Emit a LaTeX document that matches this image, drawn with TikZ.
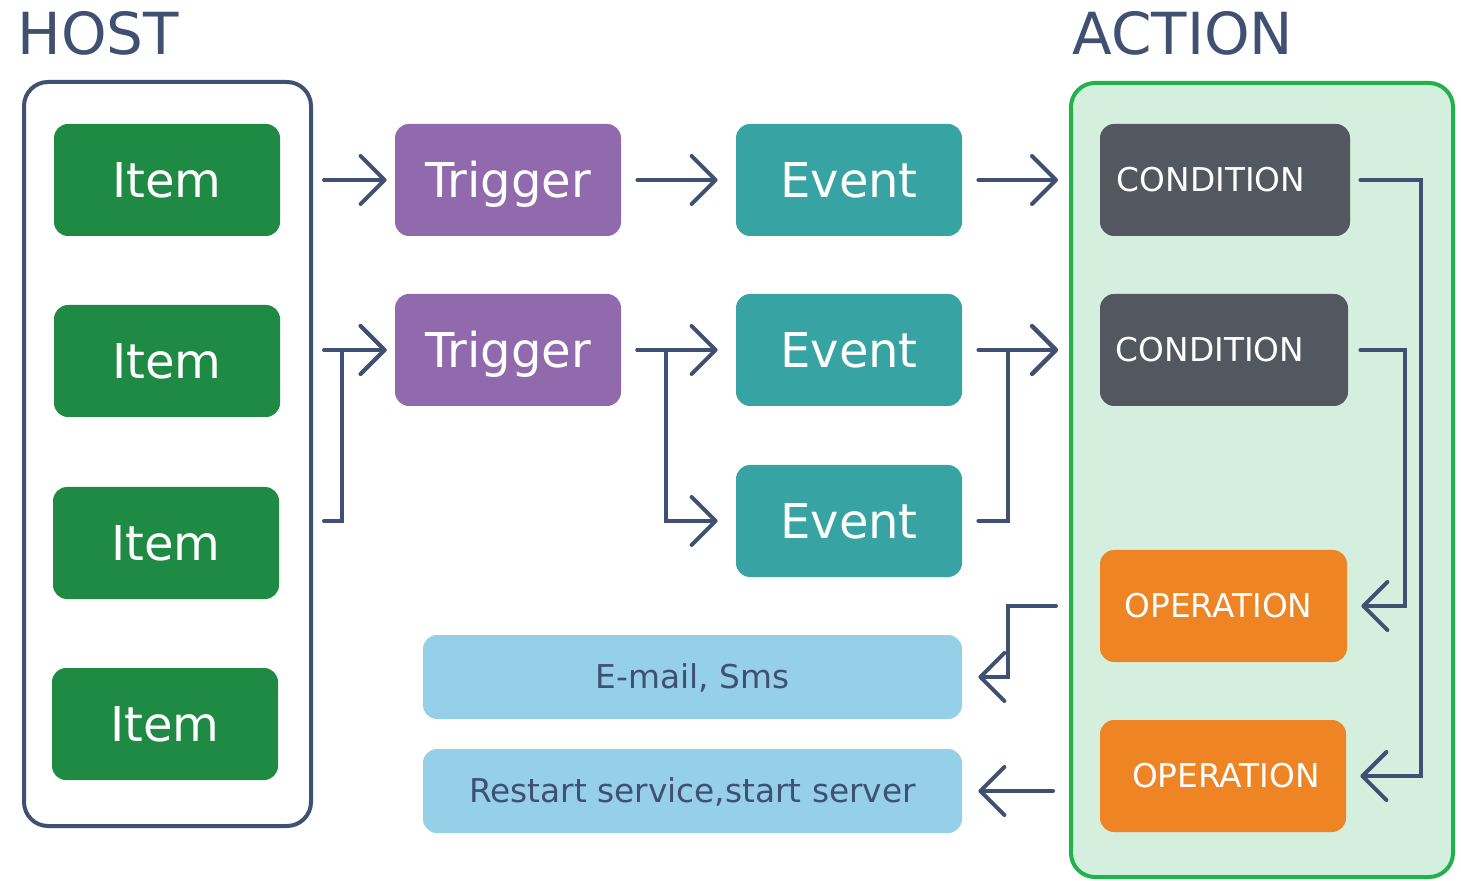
\documentclass[tikz,border=0pt]{standalone}
\usepackage{fontspec}
\setmainfont{DejaVu Sans}
\usetikzlibrary{arrows.meta}

\definecolor{linecol}{HTML}{405073}
\definecolor{itemgreen}{HTML}{1E8A44}
\definecolor{trigpurple}{HTML}{9169AD}
\definecolor{eventteal}{HTML}{38A3A3}
\definecolor{condgray}{HTML}{53575F}
\definecolor{oporange}{HTML}{EE8424}
\definecolor{msgblue}{HTML}{95CFE8}
\definecolor{actgreen}{HTML}{22B24C}
\definecolor{actfill}{HTML}{D4EFDD}

\begin{document}
\begin{tikzpicture}[x=0.5pt, y=-0.5pt,
    tile/.style={rounded corners=7pt, minimum width=113pt, minimum height=56pt, inner sep=0pt,
        text=white, text height=17.3pt, text depth=0pt, font=\fontsize{24}{29}\selectfont},
    caps/.style={rounded corners=7pt, minimum height=56pt, inner sep=0pt,
        text=white, text height=11.8pt, text depth=0pt, font=\fontsize{16.4}{20}\selectfont},
    msg/.style={rounded corners=7pt, minimum width=269.5pt, minimum height=42pt, inner sep=0pt,
        fill=msgblue, text=linecol, text height=11.8pt, text depth=0pt, font=\fontsize{16.4}{20}\selectfont},
    title/.style={anchor=base west, inner sep=0pt, text=linecol, font=\fontsize{29}{35}\selectfont},
    arr/.style={draw=linecol, line width=2pt, line cap=round, line join=miter,
        -{Straight Barb[length=12pt, width=24pt, round]}}]

    \useasboundingbox (0,0) rectangle (1461,881);

    \node[title] (hosttitle) at (17,55) {HOST};
    \node[title] (acttitle) at (1072,55) {ACTION};

    \node[draw=linecol, line width=2pt, rounded corners=12pt, minimum width=143.5pt, minimum height=372pt] (host) at (167.5,454) {};
    \node[draw=actgreen, fill=actfill, line width=2pt, rounded corners=12pt, minimum width=191pt, minimum height=397pt] (action) at (1262,480) {};

    \node[tile, fill=itemgreen] (i1) at (167,180) {Item};
    \node[tile, fill=itemgreen] (i2) at (167,361) {Item};
    \node[tile, fill=itemgreen] (i3) at (166,543) {Item};
    \node[tile, fill=itemgreen] (i4) at (165,724) {Item};

    \node[tile, fill=trigpurple] (t1) at (508,180) {Trigger};
    \node[tile, fill=trigpurple] (t2) at (508,350) {Trigger};

    \node[tile, fill=eventteal] (e1) at (849,180) {Event};
    \node[tile, fill=eventteal] (e2) at (849,350) {Event};
    \node[tile, fill=eventteal] (e3) at (849,521) {Event};

    \node[caps, fill=condgray, minimum width=125pt] (c1) at (1225,180) {CONDITION\kern14pt};
    \node[caps, fill=condgray, minimum width=124pt] (c2) at (1224,350) {CONDITION\kern14pt};
    \node[caps, fill=oporange, minimum width=123.5pt] (o1) at (1223.5,606) {OPERATION\kern5pt};
    \node[caps, fill=oporange, minimum width=123pt] (o2) at (1223,776) {\kern3pt OPERATION};

    \node[msg] (m1) at (692.5,677) {E-mail, Sms};
    \node[msg] (m2) at (692.5,791) {Restart service,start server};

    \draw[arr, shorten <=5.5pt, shorten >=4pt] (host.east |- t1) -- (t1.west);
    \draw[arr, shorten <=5.5pt, shorten >=4pt] (host.east |- t2) -- (t2.west);
    \draw[arr, shorten <=5.5pt, shorten >=4pt] (host.east |- e3) -- ++(29,0) |- (t2.west);

    \draw[arr, shorten <=8pt, shorten >=9pt] (t1.east) -- (e1.west);
    \draw[arr, shorten <=8pt, shorten >=9pt] (t2.east) -- (e2.west);
    \draw[arr, shorten <=8pt, shorten >=9pt] (t2.east) -- ++(45,0) |- (e3.west);

    \draw[arr, shorten <=8pt, shorten >=5.5pt] (e1.east) -- (e1.east -| action.west);
    \draw[arr, shorten <=8pt, shorten >=5.5pt] (e2.east) -- (e2.east -| action.west);
    \draw[arr, shorten <=8pt, shorten >=5.5pt] (e3.east) -- ++(46,0) |- (e2.east -| action.west);

    \draw[arr, shorten <=5pt, shorten >=7pt] (c1.east) -- ++(71,0) |- (o2.east);
    \draw[arr, shorten <=6pt, shorten >=7pt] (c2.east) -- ++(57,0) |- (o1.east);

    \draw[arr, shorten <=6.5pt, shorten >=8pt] (o1.west -| action.west) -- ++(-61,0) |- (m1.east);
    \draw[arr, shorten <=8pt, shorten >=8pt] (m2.east -| action.west) -- (m2.east);
\end{tikzpicture}
\end{document}
